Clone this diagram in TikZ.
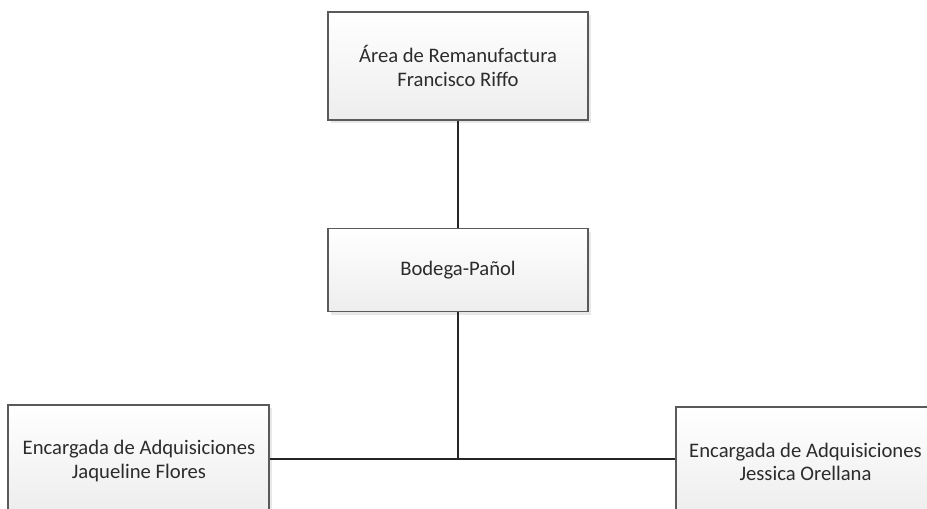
\documentclass[tikz,border=0pt]{standalone}
\usepackage{fontspec}
\setmainfont{Carlito}
\usetikzlibrary{shadows}
\definecolor{boxline}{HTML}{5A5A5A}
\definecolor{txt}{HTML}{2C2C2C}
\begin{document}
\begin{tikzpicture}[x=0.75pt,y=-0.75pt,
  orgbox/.style={draw=boxline, line width=0.8pt, top color=white, bottom color=gray!14,
    drop shadow={shadow xshift=2.5pt, shadow yshift=-2.5pt, fill=gray!30, opacity=0.6},
    text=txt, font=\fontsize{15.5}{17.5}\selectfont, align=center, inner sep=0pt},
  boxtext/.style={text=txt, font=\fontsize{15.5}{17.5}\selectfont, align=center},
  link/.style={draw=black!85, line width=0.9pt}]
\useasboundingbox (0,0) rectangle (927,508);
\clip (0,0) rectangle (927,508);
% boxes
\node[orgbox, minimum width=260*0.75pt, minimum height=108*0.75pt] (area) at (458,66) {Área de Remanufactura\\Francisco Riffo};
\node[orgbox, minimum width=260*0.75pt, minimum height=83*0.75pt] (bodega) at (458,270) {Bodega-Pañol};
\node[orgbox, minimum width=261*0.75pt, minimum height=108*0.75pt] (jaq) at (138.5,459) {};
\node[orgbox, minimum width=261*0.75pt, minimum height=108*0.75pt] (jes) at (806.5,461) {};
\node[boxtext] (jaqt) at (139,461) {Encargada de Adquisiciones\\Jaqueline Flores};
\node[boxtext] (jest) at (805.5,462) {Encargada de Adquisiciones\\Jessica Orellana};
% connectors
\coordinate (junction) at (bodega.south |- 0,459);
\draw[link] (area.south) -- (bodega.north);
\draw[link] (bodega.south) -- (junction);
\draw[link] (jaq.east |- junction) -- (jes.west |- junction);
\end{tikzpicture}
\end{document}
